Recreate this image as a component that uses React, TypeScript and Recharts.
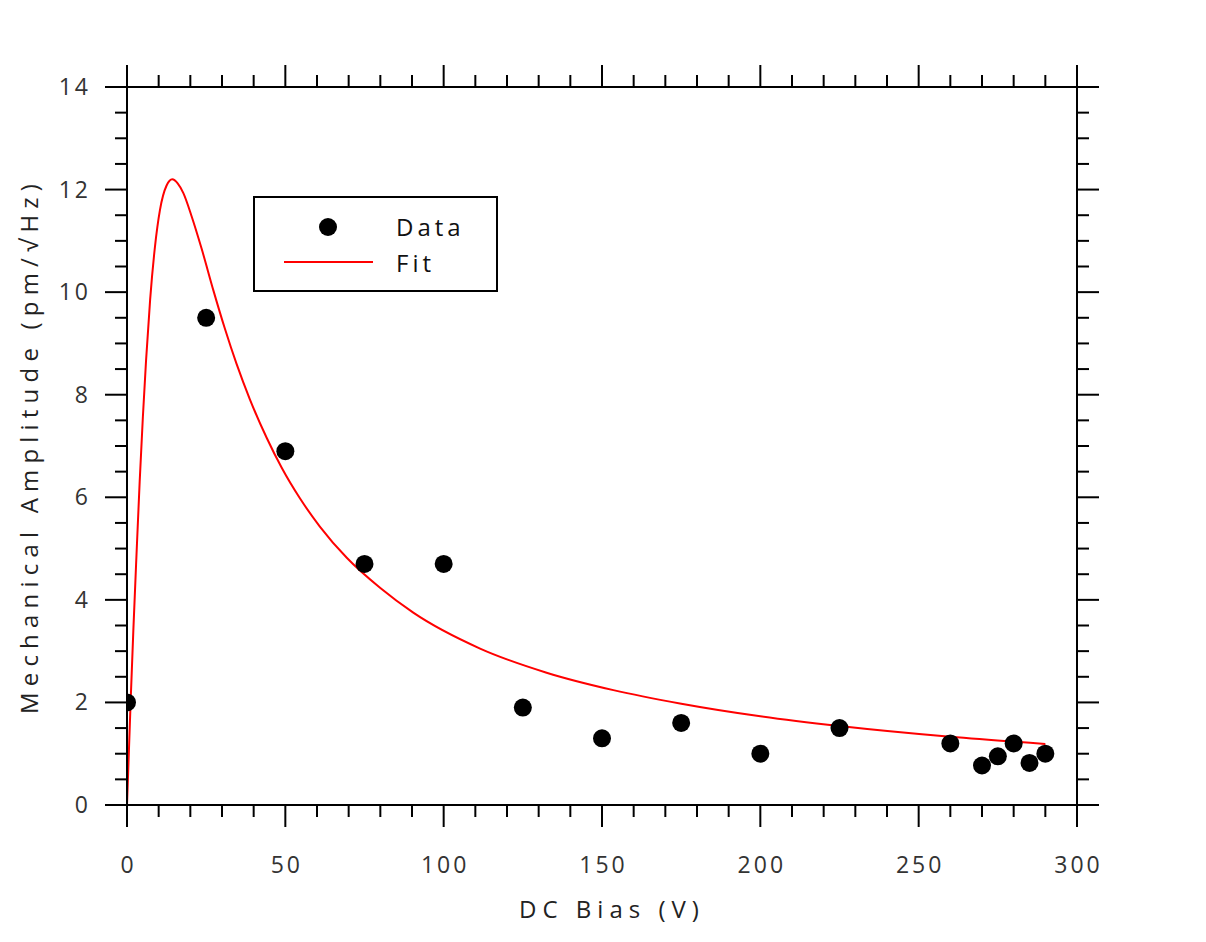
import { ComposedChart, Line, Scatter, XAxis, YAxis, Legend } from 'recharts';

// measured points
const dataX = [0, 25, 50, 75, 100, 125, 150, 175, 200, 225, 260, 270, 275, 280, 285, 290];
const dataY = [2.0, 9.5, 6.9, 4.7, 4.7, 1.9, 1.3, 1.6, 1.0, 1.5, 1.2, 0.77, 0.95, 1.2, 0.82, 1.0];

// fit curve
const fitX = [0, 1.2, 2, 3, 4, 5, 6, 7.3, 8.8, 10.4, 12.5, 14.3, 16, 17.8, 20.4, 23.6, 27.3, 30.9, 34.6, 38.8, 44.1, 48.9, 54.6, 60.9, 69.4, 80, 90.4, 111.5, 132.5, 153.6, 174.6, 200, 225, 260, 290];
const fitY = [0, 2.1, 3.4, 4.88, 6.3, 7.55, 8.65, 9.85, 10.87, 11.6, 12.08, 12.2, 12.12, 11.93, 11.48, 10.84, 10.03, 9.29, 8.6, 7.91, 7.16, 6.57, 5.98, 5.43, 4.82, 4.23, 3.75, 3.05, 2.58, 2.24, 1.98, 1.73, 1.54, 1.33, 1.19];

const xMajor = [0, 50, 100, 150, 200, 250, 300];
const yMajor = [0, 2, 4, 6, 8, 10, 12, 14];
// minor ticks every 10 V and every 0.5 pm
const xTicks = Array.from({ length: 31 }, (_, i) => i * 10);
const yTicks = Array.from({ length: 29 }, (_, i) => i * 0.5);

const points = dataX.map((x, i) => ({ x, y: dataY[i] }));
const fit = fitX.map((x, i) => ({ x, y: fitY[i] }));

const FONT = '"Open Sans", sans-serif';
const SP = 3;

function Tick(props: any) {
  const { x, y, payload, side } = props;
  const v = payload.value;
  const horiz = side === 'bottom' || side === 'top';
  const major = horiz ? xMajor.includes(v) : yMajor.includes(v);
  const len = major ? 22 : 12;
  let line;
  if (side === 'bottom') line = <line x1={x} y1={y} x2={x} y2={y + len} stroke="#000" strokeWidth={2} />;
  else if (side === 'top') line = <line x1={x} y1={y} x2={x} y2={y - len} stroke="#000" strokeWidth={2} />;
  else if (side === 'left') line = <line x1={x} y1={y} x2={x - len} y2={y} stroke="#000" strokeWidth={2} />;
  else line = <line x1={x} y1={y} x2={x + len} y2={y} stroke="#000" strokeWidth={2} />;
  let label = null;
  if (major && side === 'bottom') {
    label = <text x={x + SP / 2} y={y + 68} textAnchor="middle" fontSize={23} letterSpacing={SP} fontFamily={FONT} fill="#333">{v}</text>;
  } else if (major && side === 'left') {
    label = <text x={x - 36} y={y + 8} textAnchor="end" fontSize={23} letterSpacing={SP} fontFamily={FONT} fill="#333">{v}</text>;
  }
  return <g>{line}{label}</g>;
}

function XTitle(props: any) {
  const vb = props.viewBox;
  return (
    <text x={vb.x + vb.width / 2 + 10} y={vb.y + 113} textAnchor="middle" fontSize={24} letterSpacing={6} fontFamily={FONT} fill="#222">
      DC Bias (V)
    </text>
  );
}

function YTitle(props: any) {
  const vb = props.viewBox;
  const cx = vb.x + 20;
  const cy = vb.y + vb.height / 2;
  return (
    <text x={cx} y={cy} transform={`rotate(-90, ${cx}, ${cy})`} textAnchor="middle" dominantBaseline="central" fontSize={24} letterSpacing={6.2} fontFamily={FONT} fill="#222">
      Mechanical Amplitude (pm/√Hz)
    </text>
  );
}

function LegendBox() {
  const txt = { position: 'absolute' as const, left: 141, fontSize: 24, letterSpacing: 4, fontFamily: FONT, color: '#111', lineHeight: '24px' };
  return (
    <div style={{ position: 'relative', width: 245, height: 96, border: '2px solid #000', boxSizing: 'border-box', background: '#fff' }}>
      <svg width={245} height={96} style={{ position: 'absolute', left: -2, top: -2 }}>
        <circle cx={75} cy={31} r={9} fill="#000" />
        <line x1={31} y1={66} x2={120} y2={66} stroke="#f00" strokeWidth={2} />
      </svg>
      <div style={{ ...txt, top: 17 }}>Data</div>
      <div style={{ ...txt, top: 53 }}>Fit</div>
    </div>
  );
}

export default function App() {
  return (
    <ComposedChart width={1190} height={926} margin={{ top: 0, right: 0, bottom: 0, left: 0 }}>
      <XAxis xAxisId="b" dataKey="x" type="number" domain={[0, 300]} ticks={xTicks} interval={0} allowDataOverflow
        orientation="bottom" height={129} tickSize={0} tickMargin={0} axisLine={{ stroke: '#000', strokeWidth: 2 }} tickLine={false}
        tick={(p: any) => <Tick {...p} side="bottom" />} label={<XTitle />} />
      <XAxis xAxisId="t" dataKey="x" type="number" domain={[0, 300]} ticks={xTicks} interval={0} allowDataOverflow
        orientation="top" height={79} tickSize={0} tickMargin={0} axisLine={{ stroke: '#000', strokeWidth: 2 }} tickLine={false}
        tick={(p: any) => <Tick {...p} side="top" />} />
      <YAxis yAxisId="l" dataKey="y" type="number" domain={[0, 14]} ticks={yTicks} interval={0} allowDataOverflow
        orientation="left" width={119} tickSize={0} tickMargin={0} axisLine={{ stroke: '#000', strokeWidth: 2 }} tickLine={false}
        tick={(p: any) => <Tick {...p} side="left" />} label={<YTitle />} />
      <YAxis yAxisId="r" dataKey="y" type="number" domain={[0, 14]} ticks={yTicks} interval={0} allowDataOverflow
        orientation="right" width={121} tickSize={0} tickMargin={0} axisLine={{ stroke: '#000', strokeWidth: 2 }} tickLine={false}
        tick={(p: any) => <Tick {...p} side="right" />} />
      <Legend layout="horizontal" verticalAlign="middle" align="center" content={<LegendBox />}
        wrapperStyle={{ left: 245, top: 188, width: 245, height: 96 }} />
      <Line xAxisId="t" yAxisId="r" data={fit} dataKey="y" name="Fit" type="monotone" stroke="#f00" strokeWidth={2}
        dot={false} activeDot={false} isAnimationActive={false} />
      <Scatter xAxisId="b" yAxisId="l" data={points} dataKey="y" name="Data" fill="#000" isAnimationActive={false}
        shape={(p: any) => <circle cx={p.cx} cy={p.cy} r={9} fill="#000" />} />
    </ComposedChart>
  );
}
